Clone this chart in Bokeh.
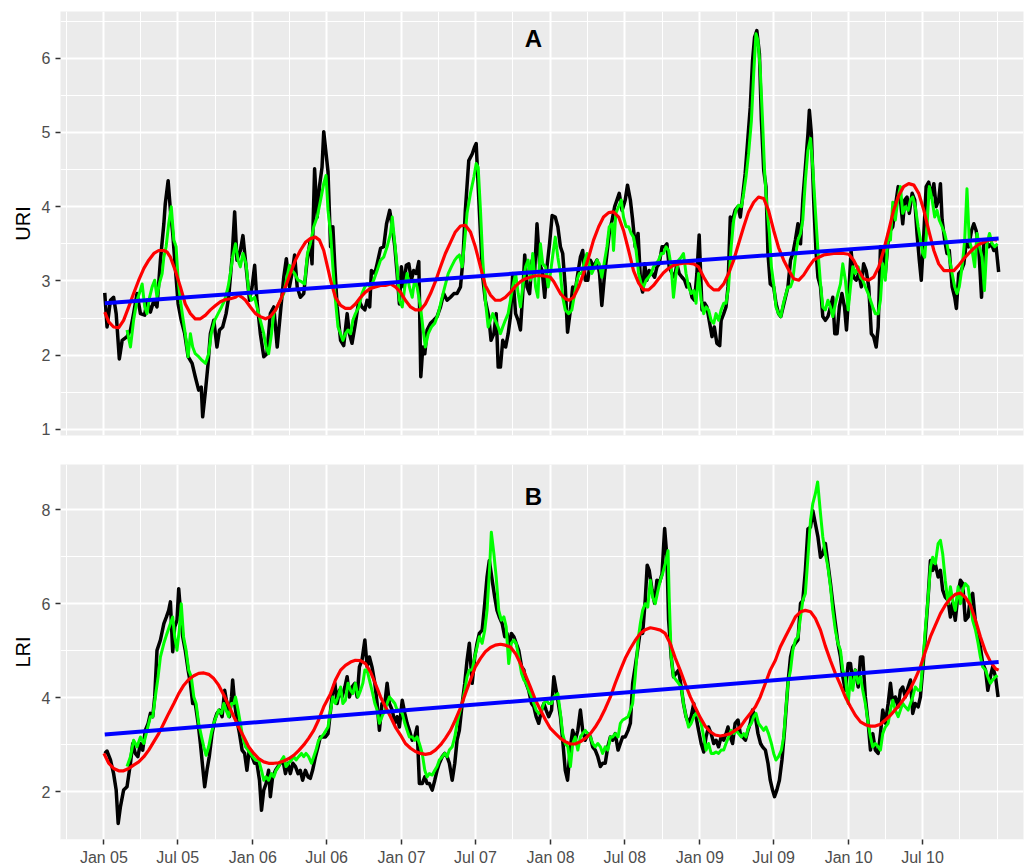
import numpy as np
import pandas as pd
from bokeh.plotting import figure
from bokeh.layouts import column
from bokeh.models import Range1d, FixedTicker, DatetimeTickFormatter, Label
from bokeh.embed import file_html
from bokeh.resources import INLINE

# ---------------- data (x = weeks since 1 Jan 2005) ----------------
uri_obs_wk = [0.3,1.1,2.3,3.4,4.3,5.4,6.4,8.1,9.3,10.4,11.6,12.8,14.3,15.1,16.3,17.5,18.6,19.8,21.0,21.5,22.5,23.3,24.1,25.0,26.0,27.1,28.3,29.5,30.9,32.0,33.2,34.1,34.6,35.6,36.5,37.3,38.5,39.6,40.5,41.6,42.8,43.7,44.9,45.8,46.6,47.8,48.7,49.8,51.0,51.9,52.8,53.6,54.8,56.0,57.1,58.3,59.5,60.7,61.8,63.0,63.9,65.0,65.9,66.8,67.7,68.8,70.0,71.2,72.3,72.9,73.8,74.7,75.5,76.4,77.0,
              78.5,79.4,80.2,80.9,81.7,82.9,84.0,85.2,86.0,86.9,88.1,89.3,90.4,91.4,92.2,93.1,93.7,94.9,95.7,96.9,98.0,99.0,100.1,101.0,101.9,102.7,103.5,104.2,105.0,105.9,106.8,107.7,108.5,109.4,110.3,111.0,111.7,112.4,113.2,114.4,115.5,116.7,117.9,119.0,120.2,121.4,122.6,123.7,124.9,125.7,126.6,127.8,129.0,129.8,130.4,131.1,131.9,132.7,133.6,134.8,135.6,136.6,137.4,138.1,138.9,139.7,140.7,141.6,142.4,143.2,144.2,145.1,145.9,146.7,147.4,148.2,149.1,150.0,150.9,151.7,152.6,153.5,154.4,155.2,156.1,157.0,
              158.1,159.0,159.9,160.7,161.6,162.4,163.4,164.2,165.1,166.0,166.9,167.7,168.6,169.5,170.4,171.5,172.7,173.6,174.4,175.4,176.2,177.0,178.0,178.9,179.7,180.5,181.5,182.6,183.4,184.4,185.2,186.1,187.1,188.0,188.7,189.4,190.2,191.0,192.0,192.9,193.7,194.5,195.5,196.4,197.2,198.0,199.0,199.9,200.7,201.5,202.5,203.4,204.2,205.0,206.0,206.9,207.7,208.5,209.5,210.4,211.2,212.0,213.0,213.8,214.7,215.7,216.2,217.1,217.9,218.6,219.4,220.2,221.1,222.1,222.9,223.7,224.6,225.6,226.4,227.2,227.9,228.7,229.6,230.3,231.1,231.9,232.6,233.4,234.6,235.4,236.3,237.1,
              238.7,239.6,240.5,241.3,242.2,243.1,244.0,244.8,245.7,246.6,247.1,247.8,248.6,249.4,250.1,251.0,251.8,252.7,253.6,254.5,255.3,256.0,256.8,257.6,258.5,259.4,260.1,260.9,261.7,262.6,263.5,264.4,265.3,266.1,267.0,267.9,268.8,269.6,270.5,271.2,272.0,272.8,273.7,274.7,275.5,276.3,277.2,278.2,279.0,279.8,280.5,281.3,282.1,283.1,284.0,284.8,285.6,286.3,287.2,288.0,288.9,289.8,290.7,291.5,292.4,293.0,293.6,294.5,295.3,296.1,297.1,298.0,298.6,299.4,300.3,301.2,302.0,302.9,303.9,304.7,305.5,306.4,307.4,308.2,309.0,309.9,310.9,311.7,312.5,313.4]
uri_obs = [2.84,2.38,2.74,2.78,2.56,1.95,2.20,2.25,2.34,2.56,2.83,2.56,2.54,2.74,2.58,2.74,2.65,3.28,3.77,4.04,4.35,3.95,3.64,3.19,2.69,2.47,2.29,1.98,1.89,1.71,1.53,1.57,1.17,1.53,1.89,2.29,2.47,2.11,2.34,2.38,2.56,2.78,3.32,3.93,3.28,3.41,3.61,3.19,2.74,2.92,3.21,2.74,2.29,1.98,2.02,2.56,2.65,2.11,2.56,3.05,3.30,2.92,3.10,3.35,2.92,2.78,2.83,3.28,3.55,3.23,4.51,3.86,4.27,4.53,5.01,
           4.47,3.46,3.73,3.19,2.65,2.20,2.13,2.56,2.29,2.16,2.43,2.74,2.65,2.61,2.74,2.65,3.14,3.10,3.23,3.44,3.46,3.77,3.95,3.73,3.46,3.10,2.69,3.19,2.92,3.21,3.23,3.01,3.14,3.10,3.26,1.71,2.11,2.02,2.34,2.43,2.47,2.52,2.65,2.83,2.74,2.78,2.83,2.83,2.92,3.26,3.95,4.62,4.71,4.80,4.85,4.27,3.64,3.05,2.74,2.52,2.20,2.29,2.56,1.84,1.84,2.20,2.11,2.29,2.52,3.10,2.56,2.47,2.34,2.83,3.35,2.92,2.83,3.28,3.14,3.77,3.23,3.14,2.78,3.19,3.50,3.88,
           3.86,3.73,3.46,3.37,2.92,2.31,2.61,2.92,2.87,3.10,3.32,3.41,3.01,3.01,3.28,3.19,3.28,3.10,2.67,3.10,3.37,3.64,3.82,4.00,4.09,4.18,3.95,4.09,4.29,4.09,3.82,3.46,3.64,2.96,2.85,3.23,3.01,3.14,3.10,3.05,3.19,3.23,3.46,3.46,3.50,3.19,3.10,3.05,3.23,3.10,3.05,3.01,2.92,2.96,2.78,2.74,3.10,3.62,2.61,2.70,2.65,2.47,2.25,2.38,2.16,2.13,2.47,2.56,2.65,2.92,3.86,3.82,3.95,4.00,3.86,4.13,4.44,4.94,5.34,5.97,6.28,6.37,6.06,5.16,4.49,4.27,3.37,2.96,2.92,2.70,2.56,2.52,
           2.78,2.92,3.28,3.37,3.55,3.77,3.50,4.09,4.53,4.98,5.30,4.98,4.09,3.41,3.05,2.92,2.52,2.47,2.52,2.65,2.78,2.29,2.29,2.65,2.83,2.65,2.34,2.83,3.41,3.05,3.01,3.10,2.92,3.23,3.14,2.92,2.29,2.25,2.11,2.38,3.46,3.46,3.10,3.55,3.68,3.73,4.00,4.27,4.09,3.77,4.09,4.13,3.91,4.18,4.09,3.64,3.28,3.01,3.64,4.27,4.33,4.13,4.31,4.00,4.09,4.31,3.82,3.55,3.37,3.41,2.92,2.78,2.63,3.10,3.14,3.23,3.50,3.46,3.68,3.77,3.68,3.46,2.78,3.55,3.55,3.46,3.50,3.41,3.46,3.12]

uri_fit_wk = [8.1,9.3,10.4,11.6,12.4,13.4,14.3,15.1,16.0,16.9,17.8,18.6,19.4,20.4,21.0,21.8,22.7,23.6,24.5,25.3,26.0,26.8,27.6,28.5,29.5,30.3,31.1,32.0,33.2,34.4,35.6,36.7,37.6,38.8,40.0,41.2,42.3,43.5,44.3,45.1,46.1,47.0,47.8,48.7,49.8,50.7,51.7,52.8,53.6,54.8,56.0,56.8,57.7,58.7,59.5,60.7,61.8,63.0,64.1,65.0,65.9,66.8,68.0,69.2,70.3,71.3,72.3,73.5,74.7,75.9,77.0,77.8,
              78.5,79.4,80.2,81.1,82.0,82.9,83.7,84.6,85.5,86.4,87.2,88.1,89.3,90.4,91.4,92.2,93.4,94.5,95.7,96.9,98.0,99.2,100.4,101.0,101.9,102.7,103.5,104.5,105.4,106.2,107.0,108.0,108.8,109.7,110.9,111.7,112.6,113.6,114.7,115.9,117.1,118.2,119.4,120.6,121.7,122.9,123.7,124.5,125.5,126.4,127.2,128.4,129.6,130.4,131.1,131.9,132.7,133.6,134.6,135.4,136.2,137.1,138.1,138.9,139.7,140.6,141.6,142.4,143.2,144.2,145.1,145.9,146.7,147.7,148.6,149.4,150.2,151.2,152.0,152.9,153.7,154.7,155.6,156.4,157.3,
              158.1,159.0,159.9,160.7,161.6,162.8,163.9,164.9,165.7,166.5,167.4,168.4,169.2,170.0,170.9,171.9,172.7,173.5,174.4,175.4,176.2,177.0,178.0,178.5,179.3,180.3,181.2,182.0,182.9,183.8,184.7,185.5,186.4,187.3,188.2,189.0,189.9,190.8,191.7,192.5,193.4,194.3,195.2,196.0,196.9,197.8,198.7,199.5,200.4,201.3,202.2,203.0,203.9,204.8,205.7,206.6,207.4,208.3,209.2,210.1,210.9,211.8,212.7,213.6,214.4,215.3,216.2,217.1,217.9,218.8,219.7,220.6,221.4,222.3,223.3,224.1,224.9,225.8,226.8,227.6,228.4,229.1,229.9,230.7,231.4,232.2,233.1,233.8,234.6,235.4,236.3,237.1,238.0,
              239.6,240.5,241.3,242.2,243.1,244.0,244.8,245.7,246.6,247.5,248.3,249.2,250.1,251.0,251.8,252.7,253.6,254.5,255.3,256.2,257.1,258.0,258.8,259.7,260.7,261.5,262.3,263.2,264.2,265.0,265.8,266.7,267.7,268.5,269.3,270.2,271.2,272.0,272.8,273.7,274.7,275.5,276.3,277.2,278.2,279.0,279.8,280.7,281.7,282.5,283.3,284.2,285.2,286.0,286.8,287.5,288.3,289.1,290.1,291.0,291.8,292.6,293.6,294.5,295.3,296.1,297.1,298.0,298.8,299.6,300.6,301.5,302.3,303.1,304.1,305.0,305.8,306.7,307.6,308.4,309.3,310.2,311.1,312.0,313.0]
uri_fit = [2.34,2.11,2.47,2.74,2.83,2.96,2.65,2.56,2.78,2.92,3.01,2.78,2.96,3.10,3.32,3.46,3.77,4.00,3.55,3.46,3.01,2.74,2.52,2.29,1.98,2.29,2.11,2.02,1.98,1.93,1.89,2.02,2.29,2.47,2.56,2.65,2.74,2.92,3.10,3.32,3.50,3.28,3.19,3.37,3.23,2.87,2.74,2.78,2.65,2.47,2.29,2.11,2.02,2.29,2.56,2.65,2.74,2.83,3.05,3.21,3.14,3.10,3.01,2.99,2.96,3.37,3.50,3.73,3.86,4.09,4.31,4.42,
           3.95,3.64,3.19,2.74,2.38,2.29,2.20,2.29,2.34,2.29,2.47,2.56,2.65,2.83,2.92,2.96,2.92,3.01,3.14,3.28,3.32,3.46,3.64,3.86,3.50,3.19,2.74,2.65,2.92,3.10,2.92,2.78,3.01,2.92,2.65,2.38,2.11,2.29,2.38,2.43,2.56,2.74,2.92,3.10,3.19,3.28,3.32,3.35,3.19,3.55,3.91,4.18,4.40,4.58,4.53,3.95,3.28,2.74,2.38,2.47,2.56,2.47,2.38,2.29,2.38,2.47,2.56,2.74,2.92,3.10,2.83,2.65,2.92,3.19,3.28,3.01,3.37,2.92,2.78,3.50,3.23,3.19,2.92,3.10,3.37,
           3.59,3.32,3.10,2.78,2.61,2.56,2.61,2.83,3.01,3.10,3.10,3.28,3.37,3.23,3.10,3.19,3.28,3.23,3.05,3.28,3.46,3.73,3.77,3.41,3.91,4.00,4.09,3.86,3.73,3.73,3.64,3.59,3.41,3.10,2.96,2.92,3.01,3.05,3.10,3.19,3.23,3.28,3.37,3.37,3.46,3.41,3.19,2.78,3.10,3.28,3.32,3.37,3.10,2.92,2.83,2.87,2.70,3.10,2.74,2.56,2.65,2.61,2.47,2.43,2.56,2.47,2.61,2.70,2.70,2.92,3.46,3.82,3.95,4.02,4.00,4.18,4.40,4.71,5.16,5.79,6.33,6.24,5.84,5.16,4.49,4.00,3.64,3.19,2.96,2.65,2.56,2.52,2.70,
           2.92,2.92,3.01,3.32,3.55,3.64,3.82,4.35,4.76,4.92,4.53,3.95,3.41,2.96,2.65,2.61,2.74,2.65,2.52,2.69,2.83,2.96,3.23,3.01,2.61,2.92,3.19,3.10,3.19,3.05,3.01,2.92,2.83,2.74,2.65,2.56,2.56,2.74,3.23,3.01,3.64,3.55,4.06,3.82,4.13,4.27,3.91,4.00,3.95,4.09,4.13,4.00,3.73,3.55,3.37,3.32,3.73,4.27,4.09,3.86,3.95,3.82,3.73,3.64,3.50,3.32,3.10,2.92,2.83,2.92,3.19,3.55,4.24,3.55,3.41,3.19,3.64,3.46,3.32,2.87,3.50,3.64,3.50,3.46,3.50]

uri_smooth_wk = [0.3,1.7,3.4,5.2,6.9,8.7,10.4,12.2,14.0,15.7,17.5,19.2,21.0,22.1,23.3,25.0,26.8,28.5,30.3,32.0,33.8,35.6,37.3,39.1,40.8,42.6,44.3,46.1,47.2,48.4,49.6,51.3,53.1,54.8,56.6,58.3,60.1,61.8,63.6,65.3,67.1,68.8,70.6,72.3,74.1,75.5,77.0,
                 79.4,81.1,82.9,84.6,86.4,88.1,89.9,91.6,93.4,95.1,96.9,98.6,100.4,102.1,103.9,105.6,107.4,109.1,110.9,112.6,114.4,116.1,117.9,119.6,121.4,123.1,124.9,126.6,128.4,130.1,131.9,133.6,135.4,137.1,138.9,140.6,142.4,144.2,145.9,147.7,149.4,151.2,153.5,155.2,156.4,157.6,
                 159.9,161.6,163.0,164.5,166.3,168.0,169.8,171.5,173.3,175.0,176.8,178.5,180.3,182.0,183.8,185.5,187.3,189.0,190.8,192.5,194.3,196.0,197.8,199.5,201.3,203.0,204.8,206.6,208.3,210.1,211.8,213.6,215.3,217.1,218.8,220.6,222.3,224.1,225.8,227.6,229.3,231.1,232.8,234.6,236.3,238.1,
                 240.1,241.6,243.4,245.1,246.9,248.6,250.4,252.1,253.9,255.6,257.4,259.1,260.9,262.6,264.4,266.1,267.9,269.6,271.4,273.1,274.9,276.6,278.4,280.1,281.9,283.7,285.4,287.2,288.9,290.7,292.4,294.2,295.9,297.7,299.4,301.2,302.9,304.7,306.4,308.2,309.9,311.7,312.8]
uri_smooth = [2.58,2.45,2.38,2.37,2.47,2.65,2.83,3.01,3.17,3.28,3.37,3.41,3.41,3.39,3.32,3.14,2.92,2.69,2.56,2.49,2.49,2.54,2.61,2.67,2.72,2.75,2.76,2.78,2.81,2.78,2.74,2.65,2.56,2.52,2.49,2.52,2.61,2.74,2.92,3.10,3.28,3.41,3.52,3.57,3.59,3.55,3.41,
              3.01,2.78,2.67,2.63,2.63,2.69,2.78,2.85,2.90,2.92,2.94,2.94,2.96,2.92,2.85,2.74,2.65,2.61,2.61,2.69,2.83,2.99,3.19,3.37,3.52,3.66,3.74,3.75,3.66,3.46,3.19,2.94,2.81,2.74,2.74,2.78,2.85,2.93,2.99,3.03,3.05,3.07,3.07,3.06,3.05,2.99,
              2.83,2.76,2.74,2.78,2.92,3.10,3.32,3.55,3.73,3.86,3.92,3.93,3.86,3.68,3.41,3.14,2.97,2.88,2.88,2.94,3.03,3.11,3.17,3.21,3.23,3.24,3.24,3.23,3.19,3.05,2.94,2.88,2.88,2.96,3.10,3.28,3.50,3.73,3.93,4.06,4.13,4.11,3.95,3.68,3.45,3.28,
              3.13,3.03,3.01,3.08,3.19,3.28,3.32,3.35,3.36,3.37,3.37,3.37,3.36,3.28,3.14,3.03,3.01,3.05,3.19,3.41,3.68,3.95,4.15,4.27,4.31,4.29,4.18,3.95,3.68,3.41,3.23,3.14,3.14,3.14,3.21,3.30,3.37,3.44,3.49,3.52,3.55,3.56,3.55]

uri_trend_wk = [0.3, 313.4]
uri_trend = [2.70, 3.57]

lri_obs_wk = [0.3,1.1,2.3,3.4,4.3,5.0,5.8,6.9,8.1,9.3,10.1,11.0,11.9,12.8,13.6,14.5,15.5,16.3,17.1,17.8,18.6,19.8,21.0,21.9,22.7,23.3,24.1,24.8,25.6,26.2,26.8,27.6,28.5,29.5,30.3,31.1,32.0,33.0,33.8,34.6,35.3,36.1,36.9,37.9,38.8,39.6,40.5,41.4,42.3,43.1,44.0,44.7,45.1,45.8,46.6,47.5,48.4,49.3,50.1,50.9,51.9,52.8,53.6,54.5,55.2,56.0,56.8,57.7,58.3,59.1,60.1,61.0,61.8,62.7,63.6,64.5,65.3,66.2,67.1,68.0,68.8,69.6,70.6,71.5,72.3,73.1,74.1,75.0,75.8,76.6,
              77.6,78.5,79.4,80.2,80.9,81.7,82.5,83.4,84.4,85.2,86.0,86.9,87.9,88.7,89.5,90.4,91.4,92.2,93.0,93.9,94.9,95.7,96.5,97.4,98.4,99.2,100.0,101.0,101.9,102.7,103.5,104.5,105.4,106.2,107.0,108.0,108.9,109.7,110.5,111.5,112.4,113.2,114.0,115.0,115.9,116.7,117.5,118.5,119.4,120.2,121.0,122.0,122.9,123.7,124.5,125.5,126.4,127.2,128.0,129.0,129.9,130.7,131.5,132.5,133.4,134.2,135.0,136.0,136.9,137.7,138.5,139.5,140.4,141.2,142.0,142.7,143.6,144.4,145.3,146.3,147.1,147.9,148.8,149.8,150.6,151.4,152.3,153.3,154.1,154.9,155.8,156.8,157.6,
              159.0,159.9,160.7,161.6,162.4,163.4,164.2,165.1,166.0,166.9,167.7,168.6,169.5,170.4,171.2,172.1,173.0,173.9,174.7,175.6,176.5,177.4,178.2,179.1,180.1,180.9,181.7,182.6,183.6,184.4,185.2,186.1,187.1,187.9,188.7,189.6,190.3,191.0,192.0,192.9,193.7,194.5,195.5,196.4,197.2,197.8,198.7,199.5,200.4,201.3,202.2,203.0,203.9,204.8,205.7,206.6,207.4,208.3,209.2,210.1,210.9,211.8,212.7,213.6,214.4,215.3,216.2,217.1,217.9,218.6,219.4,220.2,221.1,222.1,222.9,223.7,224.7,225.6,226.4,227.2,228.2,229.1,230.0,230.7,231.7,232.6,233.4,234.2,234.9,235.7,236.6,237.5,238.4,
              239.6,240.5,241.3,242.2,243.1,244.0,244.8,245.7,246.6,247.5,248.3,249.2,250.1,251.0,251.8,252.7,253.6,254.5,255.3,256.2,257.1,258.0,258.8,259.7,260.7,261.5,262.3,263.2,264.2,265.0,265.8,266.7,267.7,268.5,269.3,270.2,271.2,272.0,272.8,273.7,274.7,275.5,276.3,277.2,278.2,279.0,279.8,280.7,281.7,282.5,283.3,284.2,285.2,286.0,286.8,287.7,288.7,289.5,290.3,291.2,292.2,293.0,293.8,294.7,295.7,296.5,297.3,298.2,299.2,300.0,300.8,301.7,302.7,303.5,304.3,305.3,306.2,307.0,307.8,308.8,309.6,310.5,311.3,312.3,313.2]
lri_obs = [2.82,2.87,2.68,2.39,2.04,1.33,1.69,2.04,2.11,2.61,3.03,2.82,2.75,3.03,2.89,3.31,3.46,3.67,3.60,4.02,5.01,5.23,5.58,5.72,5.86,6.04,4.98,5.51,5.65,6.32,5.86,5.30,5.01,4.59,4.31,3.88,3.88,3.46,3.03,2.53,2.11,2.46,2.75,3.24,3.53,3.67,3.74,3.60,4.16,3.88,3.60,4.02,4.38,3.88,3.53,3.24,2.89,2.82,2.46,2.89,2.75,2.61,2.61,2.25,1.61,2.04,2.18,2.46,1.90,2.32,2.46,2.54,2.61,2.68,2.39,2.61,2.39,2.61,2.54,2.39,2.46,2.25,2.46,2.32,2.29,2.46,2.75,2.96,3.17,3.17,
           3.17,3.24,3.74,4.16,4.31,3.88,4.16,4.02,4.23,4.45,4.02,4.23,4.31,4.02,4.66,4.80,5.23,4.66,4.87,4.66,4.31,3.88,3.31,3.88,3.88,4.31,3.88,3.74,3.46,3.60,3.38,3.95,3.67,3.46,3.31,3.10,3.17,3.38,2.18,2.18,2.32,2.18,2.18,2.04,2.25,2.46,2.61,2.75,2.82,2.75,2.61,2.25,2.61,3.10,3.31,3.88,4.31,4.80,5.16,4.31,4.87,5.16,5.37,5.44,6.01,6.57,6.92,6.50,6.14,5.86,5.72,5.58,5.30,5.37,5.08,5.37,5.30,5.16,5.01,4.66,4.59,4.31,4.16,3.88,3.81,3.60,3.46,3.74,3.88,3.74,3.60,3.74,4.45,
           3.95,3.60,3.10,2.46,2.25,2.96,3.31,3.10,3.31,3.74,3.31,3.10,3.24,3.17,2.96,2.89,2.75,2.54,2.61,2.61,2.96,3.17,3.10,3.24,2.89,3.03,3.17,3.17,3.31,3.46,4.31,4.66,5.08,5.44,5.37,6.07,6.82,6.71,6.29,6.01,6.50,6.43,6.64,7.60,6.99,5.65,4.87,4.45,4.52,4.59,4.23,3.88,3.60,3.46,3.60,3.88,3.60,3.31,3.03,2.85,3.17,3.38,3.24,3.03,3.10,2.96,3.17,3.10,3.24,3.38,3.17,3.03,3.46,3.53,3.24,3.17,3.10,3.31,3.46,3.74,3.60,3.24,3.03,2.96,2.89,2.61,2.25,2.04,1.90,2.04,2.25,2.68,3.31,
           4.31,4.87,5.08,5.16,5.23,6.01,6.07,6.71,7.59,7.63,7.98,7.70,7.42,6.99,7.06,7.28,6.85,6.43,6.01,5.58,5.16,4.87,4.45,4.16,4.73,4.73,4.31,4.59,4.23,4.87,4.87,4.02,3.46,2.89,3.24,2.89,2.82,3.24,3.74,3.46,3.88,4.31,3.88,4.02,3.81,4.16,4.23,4.02,4.23,4.38,3.67,3.88,3.81,4.02,4.59,5.30,6.14,6.92,6.71,6.85,6.57,6.71,6.29,6.14,6.07,5.72,6.01,5.65,6.22,6.50,6.43,5.65,5.72,6.14,6.22,5.58,5.30,5.08,4.73,4.59,4.16,4.45,4.66,4.45,4.02]

lri_fit_wk = [8.1,9.3,10.4,11.6,12.8,14.0,15.1,16.3,17.1,18.0,19.0,19.8,21.0,22.1,23.3,24.1,24.8,25.6,26.4,27.1,27.9,28.8,29.7,30.6,31.5,32.3,33.2,34.2,35.0,35.8,36.7,37.6,38.5,39.3,40.2,41.2,42.0,42.8,43.7,44.7,45.5,46.1,47.0,47.8,48.6,49.6,50.5,51.3,52.1,53.1,54.2,55.2,56.0,56.8,57.7,58.7,59.5,60.3,61.2,62.2,63.0,63.8,64.7,65.7,66.5,67.3,68.2,69.2,70.0,70.8,71.7,72.7,73.5,74.3,75.2,76.2,77.1,
              78.5,79.4,80.2,81.1,82.0,82.9,83.7,84.6,85.5,86.4,87.2,88.1,89.0,89.9,90.7,91.4,92.2,93.0,93.9,94.9,95.7,96.5,97.4,98.4,99.2,100.0,101.0,101.9,102.7,103.5,104.5,105.4,106.2,107.0,108.0,108.9,109.7,110.5,111.5,112.4,113.2,114.0,115.0,115.9,116.7,117.5,118.5,119.4,120.2,121.0,122.0,122.9,123.7,124.5,125.5,126.4,127.2,128.0,129.0,129.9,130.7,131.5,132.5,133.4,134.2,135.0,135.7,136.6,137.4,138.3,139.2,140.1,140.9,141.8,142.7,143.6,144.4,145.3,146.3,147.1,147.9,148.8,149.8,150.6,151.4,152.3,153.3,154.1,154.9,155.8,156.8,157.6,
              159.0,159.9,160.7,161.6,162.5,163.4,164.2,165.1,166.0,166.9,167.7,168.6,169.5,170.4,171.2,172.1,173.0,173.9,174.7,175.6,176.5,177.4,178.2,179.1,180.1,180.9,181.7,182.6,183.6,184.4,185.2,186.1,187.1,187.9,188.7,189.6,190.5,191.4,192.2,193.1,194.1,194.9,195.7,196.6,197.6,198.0,198.7,199.5,200.4,201.3,202.2,203.0,203.9,204.8,205.7,206.6,207.4,208.3,209.2,210.1,210.9,211.8,212.7,213.6,214.4,215.3,216.2,217.1,217.9,218.8,219.7,220.6,221.4,222.3,223.3,224.1,224.9,225.8,226.8,227.6,228.4,229.3,230.3,231.1,231.9,232.8,233.8,234.6,235.4,236.3,237.3,238.1,
              239.6,240.5,241.3,242.2,243.1,244.0,244.8,245.7,246.6,247.5,248.3,249.2,250.0,251.0,251.8,252.7,253.6,254.5,255.3,256.2,257.1,258.0,258.8,259.7,260.7,261.5,262.3,263.2,264.2,265.0,265.8,266.7,267.7,268.5,269.3,270.2,271.2,272.0,272.8,273.7,274.7,275.5,276.3,277.2,278.2,279.0,279.8,280.7,281.7,282.5,283.3,284.2,285.2,286.0,286.8,287.7,288.7,289.5,290.3,291.2,292.2,293.0,293.8,294.7,295.7,296.5,297.3,298.2,299.2,300.0,300.8,301.7,302.7,303.5,304.3,305.3,306.2,307.0,307.8,308.8,309.6,310.5,311.3,312.3,313.0]
lri_fit = [2.54,2.75,3.10,2.96,3.17,3.03,3.31,3.60,3.60,4.02,4.45,4.87,5.16,5.37,5.58,5.72,5.30,5.01,5.44,6.00,5.30,5.01,4.59,4.45,4.02,3.88,3.46,3.17,2.96,2.78,2.96,3.24,3.46,3.60,3.74,3.67,3.88,3.74,3.60,3.88,3.88,4.02,3.74,3.46,3.17,2.96,2.89,2.82,2.75,2.68,2.68,2.46,2.25,2.32,2.25,2.39,2.32,2.46,2.54,2.68,2.75,2.54,2.61,2.68,2.75,2.68,2.75,2.82,2.75,2.82,2.75,2.61,2.75,2.89,3.10,3.17,3.24,
           3.38,3.74,4.02,3.88,4.02,4.23,3.88,3.95,4.31,4.16,4.09,4.31,4.02,4.16,4.31,4.59,4.59,4.38,4.16,3.88,3.74,3.46,3.60,3.74,3.88,4.02,3.95,3.88,3.74,3.74,3.67,3.46,3.31,3.17,3.17,3.10,3.17,3.03,2.82,2.46,2.32,2.39,2.36,2.46,2.54,2.68,2.75,2.82,2.75,2.89,2.96,3.17,3.46,3.67,3.88,4.16,4.45,4.59,4.59,4.87,5.08,5.30,5.16,5.44,5.86,6.64,7.52,7.06,6.57,5.86,5.65,5.72,5.51,4.73,5.16,5.23,5.16,4.87,4.52,4.38,4.31,4.16,4.02,3.88,3.74,3.67,3.74,3.88,3.95,3.88,3.88,4.02,
           4.09,3.67,3.24,3.03,2.96,2.54,3.03,3.17,2.89,3.17,3.24,3.31,3.24,3.17,3.03,2.96,3.03,2.96,2.82,2.96,2.89,3.17,3.17,3.24,3.17,3.46,3.53,3.56,3.60,3.74,3.88,4.45,5.23,5.58,5.86,6.00,5.93,6.50,6.14,6.00,6.29,6.50,6.64,6.85,7.13,6.14,4.87,4.45,4.38,4.31,4.23,3.88,3.60,3.38,3.46,3.60,3.67,3.60,3.46,3.17,2.89,3.03,2.82,2.82,2.85,2.82,2.89,2.89,3.03,3.17,3.31,3.24,3.31,3.24,3.17,3.24,3.17,3.38,3.46,3.60,3.67,3.46,3.38,3.31,3.38,3.24,3.03,2.82,2.68,2.75,2.89,3.17,
           4.31,4.59,5.01,5.23,5.30,5.72,6.07,6.22,6.99,7.77,8.13,8.34,8.59,7.91,7.42,7.06,6.78,6.36,5.86,5.44,5.16,5.01,4.59,4.45,3.88,4.45,4.16,4.59,4.31,4.45,4.16,3.88,3.46,3.17,2.96,3.03,2.96,2.89,3.24,3.38,3.46,3.74,3.95,3.74,3.60,3.74,3.88,3.81,3.74,3.88,4.02,4.23,4.16,4.16,4.73,5.44,6.14,6.78,6.99,6.85,7.28,7.35,7.06,6.50,6.00,6.36,6.07,5.86,6.36,6.00,6.29,6.43,6.36,6.00,5.65,5.44,5.16,4.87,4.66,4.59,4.45,4.31,4.38,4.45,4.48]

lri_smooth_wk = [0.0,1.7,3.4,5.2,6.9,8.7,10.4,12.2,14.0,15.7,17.5,19.2,21.0,22.7,24.5,26.2,28.0,29.7,31.5,33.2,35.0,36.7,38.5,40.2,42.0,43.7,45.5,47.2,49.0,50.7,52.5,54.2,56.0,57.7,59.5,61.2,63.0,64.8,66.5,68.2,70.0,71.7,73.5,75.2,77.0,
                 79.4,81.1,82.9,84.6,86.4,88.1,89.9,91.6,93.4,95.1,96.9,98.6,100.4,102.1,103.9,105.6,107.4,109.1,110.9,112.6,114.4,116.1,117.9,119.6,121.4,123.1,124.9,126.6,128.4,130.1,131.9,133.6,135.4,137.1,138.9,140.6,142.4,144.2,145.9,147.7,149.4,151.2,152.9,154.7,156.4,158.2,
                 159.9,161.6,163.4,165.1,166.9,168.6,170.4,172.1,173.9,175.6,177.4,179.1,180.9,182.6,184.4,186.1,187.9,189.6,191.4,193.1,194.9,196.6,198.4,200.1,201.9,203.6,205.4,207.1,208.9,210.6,212.4,214.1,215.9,217.6,219.4,221.1,222.9,224.6,226.4,228.2,229.9,231.7,233.4,235.2,236.9,238.7,
                 240.5,242.2,244.0,245.7,247.5,249.2,251.0,252.7,254.5,256.2,258.0,259.7,261.5,263.2,265.0,266.7,268.5,270.2,272.0,273.7,275.5,277.2,279.0,280.7,282.5,284.2,286.0,287.7,289.5,291.2,293.0,294.7,296.5,298.2,300.0,301.7,303.5,305.3,307.0,308.8,310.5,312.3,313.4]
lri_smooth = [2.82,2.61,2.50,2.45,2.45,2.50,2.57,2.64,2.75,2.89,3.07,3.24,3.46,3.67,3.88,4.09,4.27,4.39,4.47,4.52,4.53,4.50,4.41,4.27,4.06,3.84,3.60,3.38,3.17,2.96,2.82,2.71,2.64,2.61,2.61,2.62,2.66,2.71,2.78,2.88,3.00,3.14,3.31,3.53,3.81,
              4.09,4.38,4.59,4.69,4.76,4.80,4.79,4.73,4.55,4.30,4.02,3.81,3.60,3.38,3.21,3.03,2.93,2.86,2.82,2.80,2.82,2.89,3.00,3.14,3.31,3.53,3.79,4.09,4.38,4.66,4.84,4.98,5.07,5.12,5.14,5.12,5.08,4.94,4.73,4.48,4.23,3.95,3.74,3.53,3.35,3.24,
              3.14,3.07,3.02,3.02,3.07,3.14,3.24,3.38,3.56,3.77,4.02,4.31,4.59,4.84,5.05,5.22,5.37,5.45,5.49,5.47,5.44,5.37,5.15,4.85,4.58,4.30,4.02,3.80,3.58,3.40,3.28,3.21,3.19,3.21,3.24,3.31,3.38,3.53,3.67,3.81,4.02,4.31,4.59,4.80,5.08,5.30,
              5.51,5.72,5.83,5.86,5.83,5.69,5.44,5.10,4.79,4.52,4.27,4.02,3.81,3.63,3.49,3.43,3.40,3.40,3.44,3.53,3.63,3.75,3.88,4.02,4.20,4.41,4.66,4.98,5.30,5.54,5.79,5.97,6.11,6.20,6.23,6.14,5.97,5.65,5.30,4.98,4.77,4.62,4.59]

lri_trend_wk = [0.3, 313.4]
lri_trend = [3.22, 4.76]

# axis breaks
major_dates = pd.date_range("2005-01-01", "2010-07-01", freq="6MS")
minor_dates = [d for d in pd.date_range("2004-10-01", "2011-01-01", freq="3MS") if d not in set(major_dates)]

# ---------------- helpers ----------------
START = pd.Timestamp("2005-01-01")
EPOCH = pd.Timestamp("1970-01-01")


def wk_to_dt(w):
    return START + pd.to_timedelta(np.asarray(w, dtype=float) * 7.0, unit="D")


def to_ms(ts):
    return (pd.Timestamp(ts) - EPOCH) / pd.Timedelta(milliseconds=1)


def wk_ms(w):
    return to_ms(START + pd.Timedelta(days=w * 7.0))


x_ticker = FixedTicker(ticks=[to_ms(d) for d in major_dates],
                       minor_ticks=[to_ms(d) for d in minor_dates])
x_start, x_end = wk_ms(-15.2), wk_ms(322.1)

FONT = "Liberation Sans"
PANEL_BG = "#EBEBEB"


def style(p, yticks, yminor, ylabel):
    p.background_fill_color = PANEL_BG
    p.border_fill_color = "white"
    p.outline_line_color = None
    p.xgrid.ticker = x_ticker
    for g in list(p.xgrid) + list(p.ygrid):
        g.grid_line_color = "white"
        g.grid_line_width = 2
        g.minor_grid_line_color = "white"
        g.minor_grid_line_width = 1
    p.yaxis.ticker = FixedTicker(ticks=yticks, minor_ticks=yminor)
    for ax in list(p.yaxis) + list(p.xaxis):
        ax.axis_line_color = None
        ax.major_tick_line_color = "#333333"
        ax.major_tick_line_width = 1.5
        ax.major_tick_out = 5
        ax.major_tick_in = 0
        ax.minor_tick_out = 0
        ax.minor_tick_in = 0
        ax.major_label_text_color = "#4D4D4D"
        ax.major_label_text_font = FONT
        ax.major_label_text_font_size = "16px"
        ax.major_label_standoff = 5
    p.yaxis.axis_label = ylabel
    p.yaxis.axis_label_text_font = FONT
    p.yaxis.axis_label_text_font_size = "20px"
    p.yaxis.axis_label_text_font_style = "normal"
    p.yaxis.axis_label_text_color = "black"
    p.yaxis.axis_label_standoff = 5


def draw(p, obs_wk, obs, fit_wk, fit, sm_wk, sm, tr_wk, tr):
    p.line(wk_to_dt(obs_wk), obs, line_color="black", line_width=3.5, line_join="round")
    p.line(wk_to_dt(fit_wk), fit, line_color="#00FF00", line_width=3, line_join="round")
    p.line(wk_to_dt(sm_wk), sm, line_color="#FF0000", line_width=3.2, line_join="round")
    p.line(wk_to_dt(tr_wk), tr, line_color="#0000FF", line_width=4)


# ---------------- panel A ----------------
pA = figure(frame_width=963, frame_height=424, x_axis_type="datetime", x_axis_location=None,
            x_range=Range1d(x_start, x_end), y_range=Range1d(0.919, 6.628),
            min_border_left=60, min_border_right=5, min_border_top=11, min_border_bottom=14,
            output_backend="svg", toolbar_location=None)
style(pA, [1, 2, 3, 4, 5, 6], [1.5, 2.5, 3.5, 4.5, 5.5, 6.5], "URI")
draw(pA, uri_obs_wk, uri_obs, uri_fit_wk, uri_fit, uri_smooth_wk, uri_smooth, uri_trend_wk, uri_trend)
pA.add_layout(Label(x=wk_ms(150.4), y=6.27, text="A", text_font=FONT, text_font_style="bold",
                    text_color="black", text_font_size="24px", text_align="center",
                    text_baseline="middle"))

# ---------------- panel B ----------------
pB = figure(frame_width=963, frame_height=375, x_axis_type="datetime",
            x_range=Range1d(x_start, x_end), y_range=Range1d(0.99, 8.96),
            min_border_left=60, min_border_right=5, min_border_top=15, min_border_bottom=26,
            output_backend="svg", toolbar_location=None)
pB.xaxis.ticker = x_ticker
pB.xaxis.formatter = DatetimeTickFormatter(
    microseconds="%b %y", milliseconds="%b %y", seconds="%b %y", minsec="%b %y",
    minutes="%b %y", hourmin="%b %y", hours="%b %y", days="%b %y",
    months="%b %y", years="%b %y")
style(pB, [2, 4, 6, 8], [1, 3, 5, 7], "LRI")
pB.xaxis.major_label_standoff = 4
draw(pB, lri_obs_wk, lri_obs, lri_fit_wk, lri_fit, lri_smooth_wk, lri_smooth, lri_trend_wk, lri_trend)
pB.add_layout(Label(x=wk_ms(150.4), y=8.28, text="B", text_font=FONT, text_font_style="bold",
                    text_color="black", text_font_size="24px", text_align="center",
                    text_baseline="middle"))

layout = column(pA, pB)
open("out.html", "w").write(file_html(layout, INLINE))
